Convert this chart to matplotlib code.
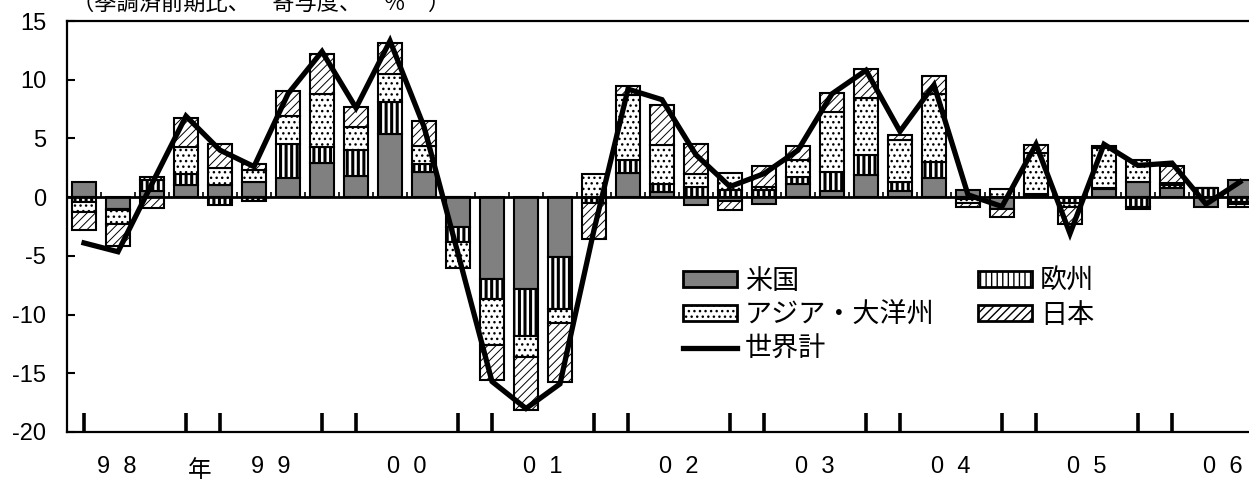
import numpy as np
import matplotlib
matplotlib.use("Agg")
from matplotlib import pyplot as plt
from matplotlib.patches import Patch

plt.rcParams['font.family'] = ['Liberation Sans', 'Noto Sans CJK JP']
plt.rcParams['axes.unicode_minus'] = False
plt.rcParams['hatch.linewidth'] = 1.0

# 1998Q1 .. 2006Q3, contributions (pp)
us     = [1.3, -1.0, 0.5, 1.0, 1.05, 1.3, 1.65, 2.9, 1.8, 5.4, 2.15, -2.5, -7.0, -7.85, -5.1, -0.1, 2.05, 0.45,
          -0.7, -0.3, -0.6, 1.1, 0.55, 1.85, 0.55, 1.6, 0.6, -1.0, 0.2, -0.1, 0.7, 1.3, 0.8, -0.8, 1.5]
europe = [-0.4, -0.1, 0.95, 1.0, -0.7, -0.3, 2.9, 1.4, 2.2, 2.7, 0.7, -1.3, -1.7, -3.95, -4.4, -0.4, 1.15, 0.65,
          0.9, 0.6, 0.6, 0.65, 1.6, 1.7, 0.75, 1.4, -0.2, -0.05, 0.1, -0.4, 0.05, -0.85, 0.2, 0.8, -0.4]
asia   = [-0.85, -1.15, 0.3, 2.3, 1.45, 1.0, 2.4, 4.5, 2.0, 2.4, 1.5, -2.2, -3.9, -1.8, -1.2, 2.0, 5.5, 3.35,
          1.1, 1.45, 0.25, 1.4, 5.1, 4.9, 3.6, 5.8, -0.3, 0.7, 3.5, -0.3, 3.4, 1.9, 0.2, 0.0, -0.2]
japan  = [-1.55, -1.95, -0.95, 2.4, 2.05, 0.55, 2.05, 3.4, 1.7, 2.6, 2.15, 0.0, -2.95, -4.5, -5.05, -3.1, 0.8, 3.4,
          2.5, -0.8, 1.8, 1.2, 1.65, 2.5, 0.35, 1.5, -0.35, -0.65, 0.6, -1.5, 0.2, -0.15, 1.45, 0.0, -0.25]
world  = [-3.9, -4.65, 1.15, 6.9, 4.0, 2.6, 8.8, 12.4, 7.6, 13.3, 6.0, -4.8, -15.7, -18.0, -15.9, -2.8, 9.2, 8.3,
          3.6, 0.9, 2.0, 4.0, 8.8, 10.8, 5.6, 9.55, 0.2, -0.8, 4.5, -3.1, 4.5, 2.7, 2.9, -0.6, 1.3]
years = ['9  8', '9  9', '0  0', '0  1', '0  2', '0  3', '0  4', '0  5', '0  6']

series = [
    ('米国', us, dict(facecolor='#808080', hatch=None), 1.0),
    ('欧州', europe, dict(facecolor='white', hatch='|||'), 2.2),
    ('アジア・大洋州', asia, dict(facecolor='white', hatch='...'), 1.0),
    ('日本', japan, dict(facecolor='white', hatch='////'), 0.7),
]

n = len(world)
x = np.arange(n)

fig = plt.figure(figsize=(12.49, 4.80), dpi=100)
ax = fig.add_axes([67 / 1249, 48 / 480, 1190 / 1249, 411 / 480])

pos_bottom = np.zeros(n)
neg_bottom = np.zeros(n)
handles = {}
for name, vals, style, hlw in series:
    vals = np.array(vals)
    bottom = np.where(vals >= 0, pos_bottom, neg_bottom)
    bars = ax.bar(x, vals, width=0.72, bottom=bottom, edgecolor='black', linewidth=1.5, zorder=2, **style)
    h = Patch(edgecolor='black', linewidth=2, label=name, **style)
    for p in list(bars) + [h]:
        if hasattr(p, 'set_hatch_linewidth'):
            p.set_hatch_linewidth(hlw)
    handles[name] = h
    pos_bottom = pos_bottom + np.where(vals > 0, vals, 0)
    neg_bottom = neg_bottom + np.where(vals < 0, vals, 0)

# zero line with category ticks
ax.axhline(0, color='black', lw=2, zorder=3)
ax.vlines(x[:-1] + 0.5, 0, 0.4, color='black', lw=1.2, zorder=3)

line, = ax.plot(x, world, color='black', lw=3.8, zorder=4, solid_joinstyle='miter', label='世界計')

# bottom ticks at first and last quarter of each year
marks = [i for i in x if i % 4 in (0, 3)]
ax.vlines(marks, -20, -18.4, color='black', lw=2.6, zorder=3)

ax.set_xlim(-0.5, n - 0.5)
ax.set_ylim(-20, 15)
ax.set_yticks(np.arange(-20, 16, 5))
ax.set_xticks([])
ax.tick_params(axis='y', direction='in', length=6, width=1.5, pad=15, labelsize=17)
for s in ax.spines.values():
    s.set_linewidth(1.6)

for k, lab in enumerate(years):
    xc = 4 * k + 1.5
    if k == 0:
        ax.text(0.95, -23.0, lab, ha='center', va='center', fontsize=17, clip_on=False)
        ax.text(3.4, -23.3, '年', ha='center', va='center', fontsize=17, clip_on=False)
    else:
        ax.text(xc, -23.0, lab, ha='center', va='center', fontsize=17, clip_on=False)

fig.text(72 / 1249, 1 - 4 / 480, '（季調済前期比、　寄与度、　％　）', ha='left', va='center', fontsize=16)

order = [handles['米国'], handles['アジア・大洋州'], line, handles['欧州'], handles['日本']]
ax.legend(handles=order, ncol=2, loc='upper left', bbox_to_anchor=(669 / 1249, 1 - 255 / 480),
          bbox_transform=fig.transFigure, frameon=False, fontsize=19.5, handlelength=2.0,
          handleheight=0.5, handletextpad=0.3, columnspacing=1.6, labelspacing=0.3, borderpad=0)

fig.savefig('out.png', dpi=100)
